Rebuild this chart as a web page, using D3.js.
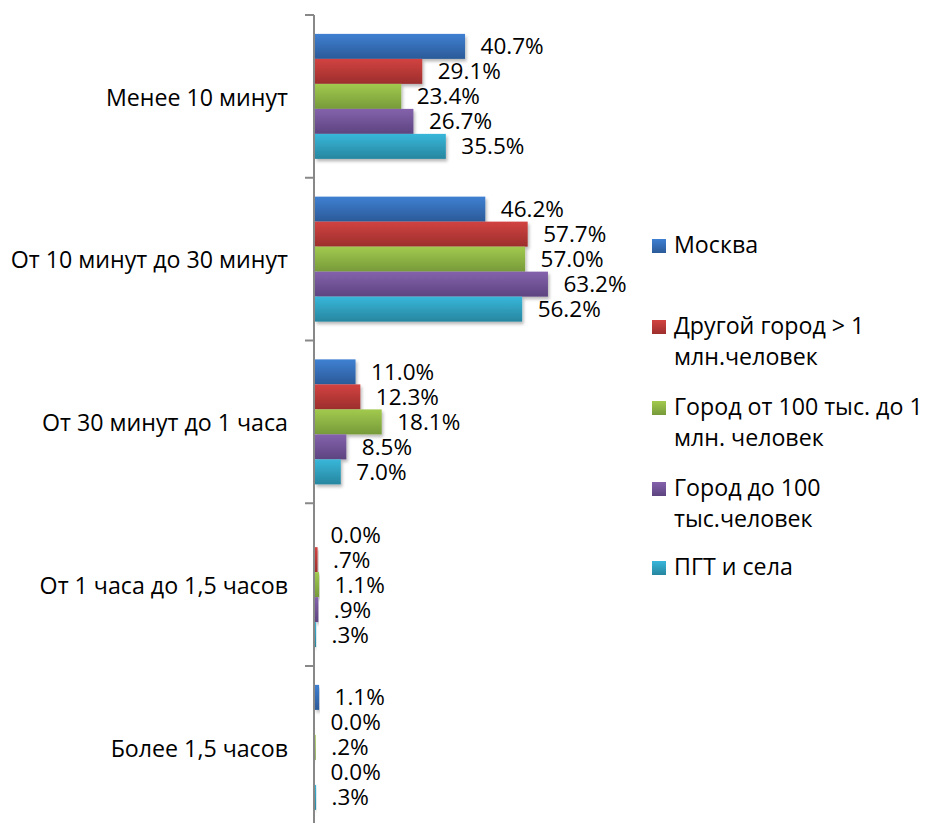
<!DOCTYPE html>
<html>
<head>
<meta charset="utf-8">
<script src="https://cdn.jsdelivr.net/npm/d3@7"></script>
<style>
  html, body { margin: 0; padding: 0; background: #ffffff; }
  svg { display: block; }
  text { font-family: "Open Sans", "Noto Sans", sans-serif; fill: #000; }
</style>
</head>
<body>
<div id="chart"></div>
<script>
// ---- data ----
const categories = ["Менее 10 минут", "От 10 минут до 30 минут", "От 30 минут до 1 часа", "От 1 часа до 1,5 часов", "Более 1,5 часов"];
const seriesNames = ["Москва", "Другой город > 1 млн.человек", "Город от 100 тыс. до 1 млн. человек", "Город до 100 тыс.человек", "ПГТ и села"];
const legendLines = [["Москва"], ["Другой город > 1", "млн.человек"], ["Город от 100 тыс. до 1", "млн. человек"], ["Город до 100", "тыс.человек"], ["ПГТ и села"]];
const moscow  = [40.7, 46.2, 11.0, 0.0, 1.1];
const bigCity = [29.1, 57.7, 12.3, 0.7, 0.0];
const midCity = [23.4, 57.0, 18.1, 1.1, 0.2];
const smallCity = [26.7, 63.2, 8.5, 0.9, 0.0];
const villages = [35.5, 56.2, 7.0, 0.3, 0.3];
const valueLabels = [
  ["40.7%", "46.2%", "11.0%", "0.0%", "1.1%"],
  ["29.1%", "57.7%", "12.3%", ".7%", "0.0%"],
  ["23.4%", "57.0%", "18.1%", "1.1%", ".2%"],
  ["26.7%", "63.2%", "8.5%", ".9%", "0.0%"],
  ["35.5%", "56.2%", "7.0%", ".3%", ".3%"]
];
const seriesValues = [moscow, bigCity, midCity, smallCity, villages];
const colorsTop = ["#3f80d2", "#d24341", "#a2ca4e", "#8462ac", "#38b7da"];
const colorsBottom = ["#2b5a98", "#9c2e2c", "#779a3a", "#5d4480", "#27869f"];

// ---- layout ----
const W = 928, H = 823;
const axisX = 314;
const FS = 22.5, FS2 = 23.2;
const svg = d3.select("#chart").append("svg").attr("width", W).attr("height", H);

const x = d3.scaleLinear().domain([0, 100]).range([axisX + 1, axisX + 1 + 368.6]);
const y = d3.scaleBand().domain(categories).range([15, 15 + 162.75 * 5]).paddingInner(0).paddingOuter(0);
const inner = d3.scaleBand().domain(d3.range(seriesNames.length))
  .range([(y.bandwidth() - 125) / 2, (y.bandwidth() + 125) / 2]).padding(0);

const defs = svg.append("defs");
colorsTop.forEach((c, i) => {
  const g = defs.append("linearGradient").attr("id", "grad" + i)
    .attr("x1", 0).attr("y1", 0).attr("x2", 0).attr("y2", 1);
  g.append("stop").attr("offset", "0%").attr("stop-color", c);
  g.append("stop").attr("offset", "100%").attr("stop-color", colorsBottom[i]);
});
const f = defs.append("filter").attr("id", "shadow").attr("x", "-10%").attr("y", "-20%").attr("width", "130%").attr("height", "160%");
f.append("feDropShadow").attr("dx", 1.5).attr("dy", 2.5).attr("stdDeviation", 1.8).attr("flood-color", "#000").attr("flood-opacity", 0.28);

// bars
const groups = svg.append("g").selectAll("g").data(categories).join("g")
  .attr("transform", d => `translate(0,${y(d)})`);

seriesValues.forEach((vals, si) => {
  groups.append("rect")
    .attr("x", x(0))
    .attr("y", inner(si))
    .attr("width", (d, ci) => Math.max(0, x(vals[ci]) - x(0)))
    .attr("height", inner.bandwidth())
    .attr("fill", `url(#grad${si})`)
    .attr("filter", "url(#shadow)");
});

// value labels
seriesValues.forEach((vals, si) => {
  groups.append("text")
    .attr("x", (d, ci) => x(vals[ci]) + 15.5)
    .attr("y", inner(si) + inner.bandwidth() / 2 + 2)
    .attr("dominant-baseline", "middle")
    .attr("font-size", FS)
    .text((d, ci) => valueLabels[si][ci]);
});

// axis
const yAxis = d3.axisLeft(y).tickSize(0).tickFormat("");
const ax = svg.append("g").attr("transform", `translate(${axisX},0)`).call(yAxis);
ax.select(".domain").remove();
ax.append("line").attr("x1", 0).attr("x2", 0).attr("y1", 15).attr("y2", H + 10)
  .attr("stroke", "#888").attr("stroke-width", 2);
const bounds = categories.map(c => y(c)).concat([y.range()[1]]);
ax.selectAll(".bt").data(bounds).join("line").attr("class", "bt")
  .attr("x1", -9).attr("x2", 0).attr("y1", d => d).attr("y2", d => d)
  .attr("stroke", "#888").attr("stroke-width", 2);

// category labels
svg.append("g").selectAll("text").data(categories).join("text")
  .attr("x", 288)
  .attr("y", d => y(d) + y.bandwidth() / 2 + 3)
  .attr("text-anchor", "end")
  .attr("dominant-baseline", "middle")
  .attr("font-size", FS2)
  .text(d => d);

// legend
const legendY = [246, 327, 408, 489, 568];
const lg = svg.append("g");
legendLines.forEach((lines, i) => {
  const g = lg.append("g").attr("transform", `translate(652,${legendY[i]})`);
  g.append("rect").attr("x", 0).attr("y", -7).attr("width", 14).attr("height", 14)
    .attr("fill", `url(#grad${i})`);
  lines.forEach((t, j) => {
    g.append("text").attr("x", 22).attr("y", j * 31 + 1)
      .attr("dominant-baseline", "middle").attr("font-size", FS2).text(t);
  });
});
</script>
</body>
</html>
